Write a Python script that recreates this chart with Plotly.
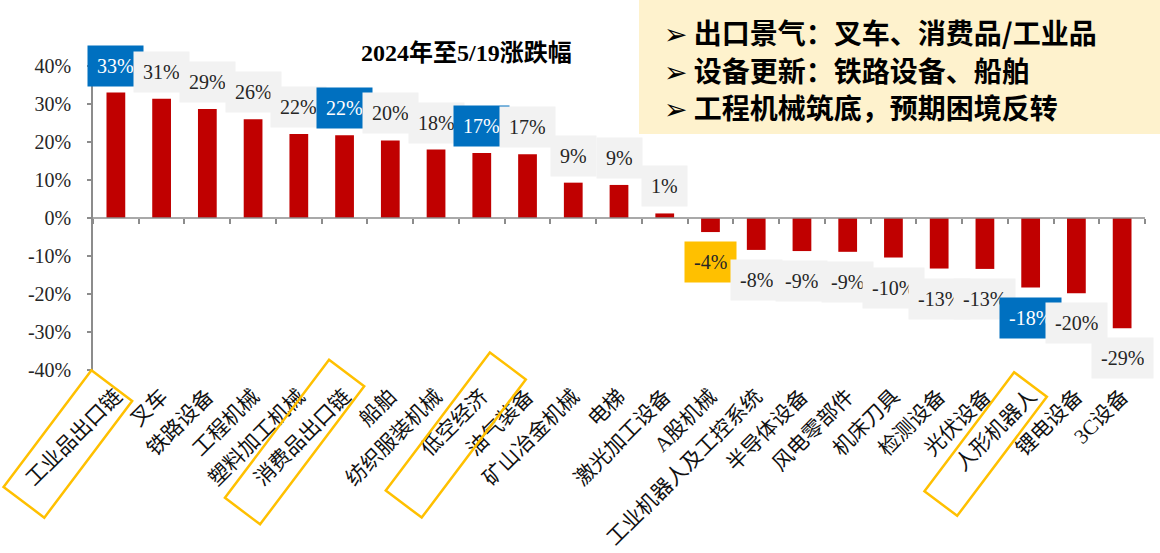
import math
import plotly.graph_objects as go

# ---- data -------------------------------------------------------------
categories = [
    "工业品出口链", "叉车", "铁路设备", "工程机械", "塑料加工机械", "消费品出口链",
    "船舶", "纺织服装机械", "低空经济", "油气装备", "矿山冶金机械", "电梯",
    "激光加工设备", "A股机械", "工业机器人及工控系统", "半导体设备", "风电零部件",
    "机床刀具", "检测设备", "光伏设备", "人形机器人", "锂电设备", "3C设备",
]
changes = [
    33.0, 31.4, 28.7, 26.0, 22.1, 21.8, 20.4, 18.0, 17.1, 16.8, 9.3, 8.7,
    1.2, -3.7, -8.4, -8.7, -8.9, -10.4, -13.3, -13.4, -18.3, -19.8, -29.0,
]
y_tick_values = [40, 30, 20, 10, 0, -10, -20, -30, -40]
y_tick_labels = [f"{v}%" for v in y_tick_values]

chart_title = "2024年至5/19涨跌幅"
note_lines = [
    "出口景气：叉车、消费品/工业品",
    "设备更新：铁路设备、船舶",
    "工程机械筑底，预期困境反转",
]
blue_tagged = ["工业品出口链", "消费品出口链", "低空经济", "人形机器人"]
yellow_tagged = ["A股机械"]

# ---- geometry & style -------------------------------------------------
W, H = 1160, 553
ML, MR, MT, MB = 93, 15, 66, 183
PW, PH = W - ML - MR, H - MT - MB

BAR_RED = "#C00000"
BLUE = "#0070C0"
GOLD = "#FFC000"
LABEL_GREY = "#F2F2F2"
AXIS_GREY = "#8C8C8C"
SERIF = "Liberation Serif, Noto Sans CJK SC"
CJK = "Liberation Serif, Noto Sans CJK SC"

# outlined category names: offset of box centre from the category centre,
# box centre height (px), long side, short side
outline_boxes = {
    "工业品出口链": (-48, 444, 146, 51),
    "消费品出口链": (-50, 442, 173, 44),
    "低空经济": (-26, 435, 173, 45),
    "人形机器人": (-45, 444, 149, 41),
}
BOX_ANGLE = math.radians(53)


def to_paper(px, py):
    return (px - ML) / PW, (MT + PH - py) / PH


def cat_center_px(i):
    return ML + (i + 0.5) * PW / len(categories)


fig = go.Figure()

fig.add_trace(go.Bar(
    x=categories,
    y=changes,
    marker=dict(color=BAR_RED, line=dict(width=0)),
    width=0.41,
    hoverinfo="x+y",
))

# zero baseline with ticks between categories
boundaries = [i - 0.5 for i in range(len(categories) + 1)]
fig.add_trace(go.Scatter(
    x=boundaries, y=[0] * len(boundaries), xaxis="x2", yaxis="y",
    mode="lines", line=dict(color=AXIS_GREY, width=1.5),
    hoverinfo="skip", showlegend=False,
))

# value labels
annotations = []
for name, v in zip(categories, changes):
    if name in blue_tagged:
        bg, fc = BLUE, "white"
    elif name in yellow_tagged:
        bg, fc = GOLD, "#262626"
    else:
        bg, fc = LABEL_GREY, "#262626"
    annotations.append(dict(
        x=name, y=v, xref="x", yref="y",
        yshift=27 if v >= 0 else -30,
        text=f"{round(v)}%", showarrow=False,
        font=dict(family=SERIF, size=20, color=fc),
        bgcolor=bg, borderpad=9, height=22,
        xanchor="center", yanchor="middle",
    ))

# title
tx, ty = to_paper(466, 53)
annotations.append(dict(
    x=tx, y=ty, xref="paper", yref="paper", showarrow=False,
    text=f"<b>{chart_title}</b>",
    font=dict(family=CJK, size=24, color="#000000"),
    xanchor="center", yanchor="middle",
))

# note panel
for k, line in enumerate(note_lines):
    nx, ny = to_paper(662, 32 + 37.5 * k)
    annotations.append(dict(
        x=nx, y=ny, xref="paper", yref="paper", showarrow=False,
        text=f"<b>➢ {line}</b>",
        font=dict(family="Noto Sans CJK SC, DejaVu Sans", size=28, color="#000000"),
        xanchor="left", yanchor="middle", height=36,
    ))

shapes = []
bx0, by0 = to_paper(639, 134)
bx1, by1 = to_paper(W, 0)
shapes.append(dict(
    type="rect", xref="paper", yref="paper",
    x0=bx0, y0=by0, x1=bx1, y1=by1,
    fillcolor="#FEF2CD", line=dict(width=0), layer="below",
))

# rotated outlines around highlighted category names
d = (math.cos(BOX_ANGLE), -math.sin(BOX_ANGLE))
n = (math.sin(BOX_ANGLE), math.cos(BOX_ANGLE))
for name, (dx, cy, L, Wd) in outline_boxes.items():
    cx = cat_center_px(categories.index(name)) + dx
    pts = []
    for sl, sw in [(1, 1), (1, -1), (-1, -1), (-1, 1)]:
        px = cx + sl * L / 2 * d[0] + sw * Wd / 2 * n[0]
        py = cy + sl * L / 2 * d[1] + sw * Wd / 2 * n[1]
        pts.append(to_paper(px, py))
    path = "M " + " L ".join(f"{x:.5f},{y:.5f}" for x, y in pts) + " Z"
    shapes.append(dict(
        type="path", xref="paper", yref="paper", path=path,
        line=dict(color=GOLD, width=2.5), fillcolor="rgba(0,0,0,0)",
    ))

fig.update_layout(
    width=W, height=H,
    margin=dict(l=ML, r=MR, t=MT, b=MB, pad=0, autoexpand=False),
    paper_bgcolor="white", plot_bgcolor="white",
    showlegend=False,
    bargap=0.59,
    xaxis=dict(
        type="category", categoryorder="array", categoryarray=categories,
        range=[-0.5, len(categories) - 0.5],
        showline=False, showgrid=False, zeroline=False, ticks="",
        tickangle=-45, ticklabelstandoff=9, automargin=False,
        tickfont=dict(family=CJK, size=21, color="#111111"),
    ),
    xaxis2=dict(
        overlaying="x", anchor="free", position=0.5,
        range=[-0.5, len(categories) - 0.5],
        tickmode="array", tickvals=boundaries,
        ticks="outside", ticklen=5, tickwidth=1.5, tickcolor=AXIS_GREY,
        showticklabels=False, showline=False, showgrid=False, zeroline=False,
    ),
    yaxis=dict(
        range=[-40, 40], automargin=False,
        tickmode="array", tickvals=y_tick_values, ticktext=y_tick_labels,
        showline=True, linecolor=AXIS_GREY, linewidth=1.5,
        ticks="outside", ticklen=4, tickwidth=1.5, tickcolor=AXIS_GREY,
        ticklabelstandoff=12,
        showgrid=False, zeroline=False,
        tickfont=dict(family=SERIF, size=20, color="#262626"),
    ),
    annotations=annotations,
    shapes=shapes,
)

fig.write_html("out.html")
